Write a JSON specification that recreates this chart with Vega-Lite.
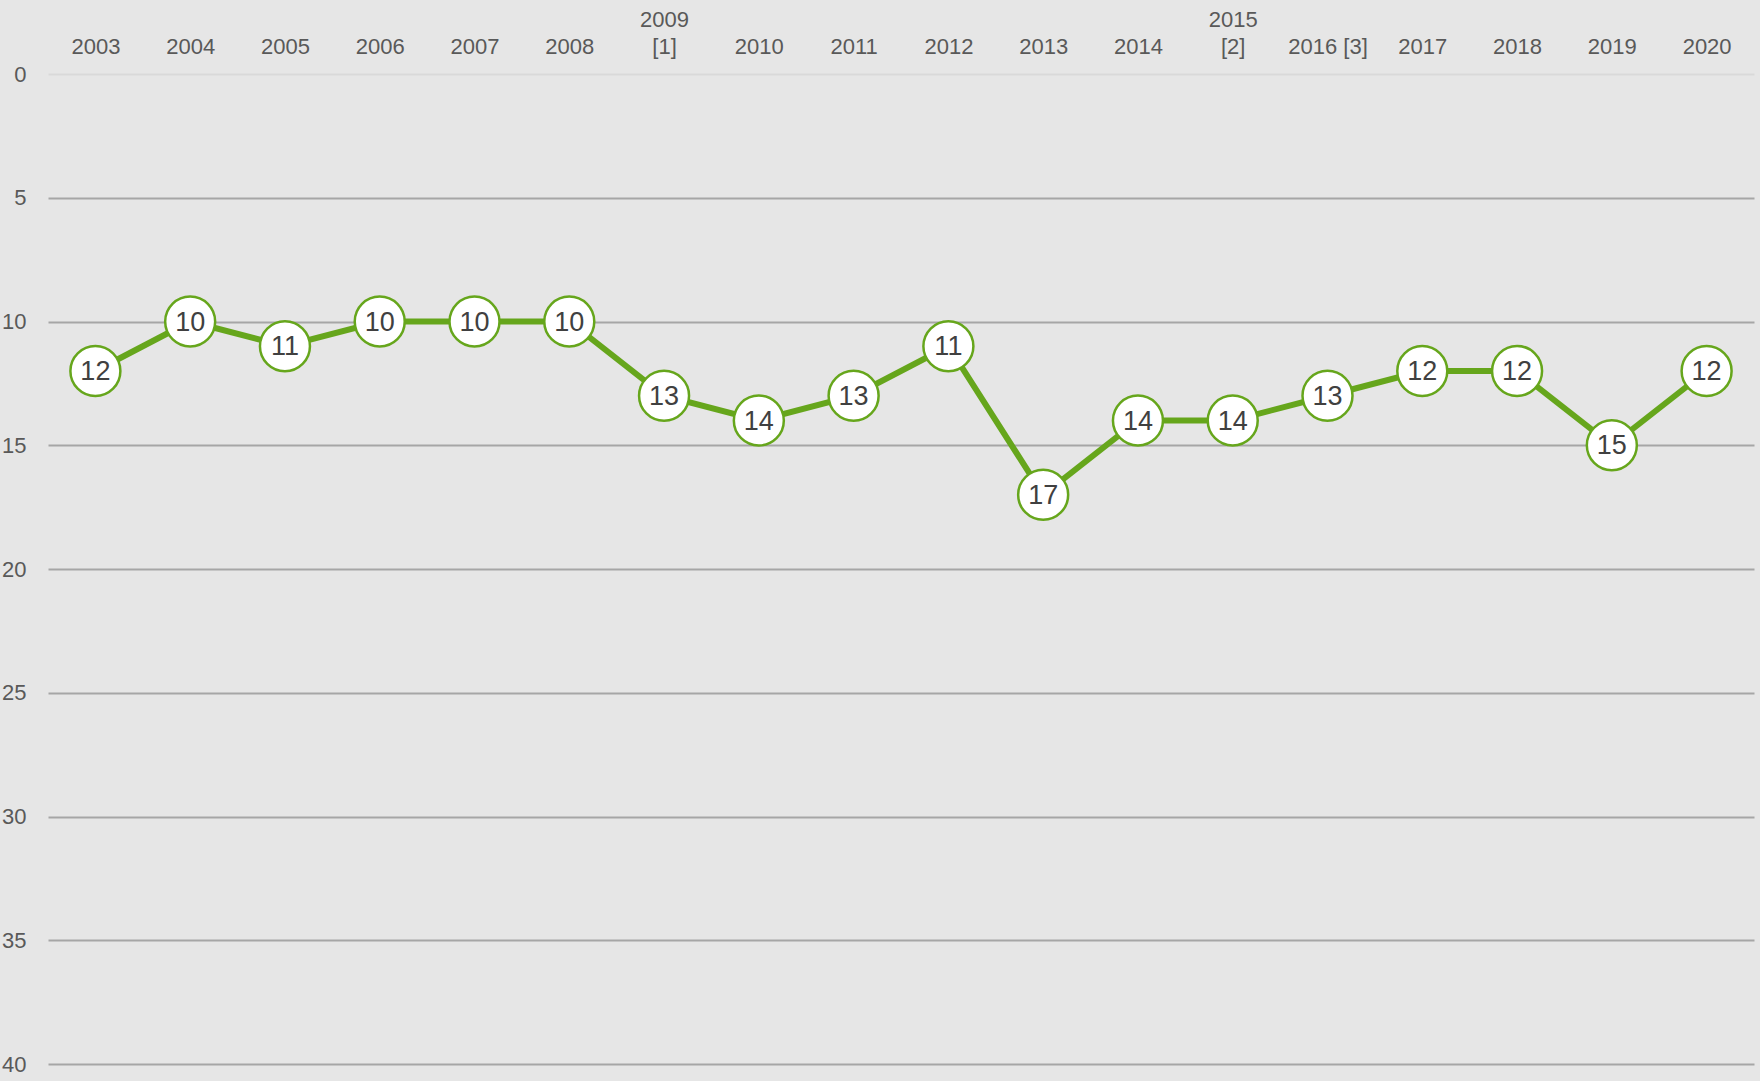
{
  "$schema": "https://vega.github.io/schema/vega-lite/v6.json",
  "width": 1706,
  "height": 990,
  "autosize": {"type": "none"},
  "padding": {"left": 48, "top": 74, "right": 6, "bottom": 17},
  "background": "#e6e6e6",
  "config": {
    "view": {"stroke": null, "fill": "#e6e6e6"},
    "font": "Liberation Sans, Arial, sans-serif"
  },
  "data": {
    "values": [
      {"year": "2003", "value": 12},
      {"year": "2004", "value": 10},
      {"year": "2005", "value": 11},
      {"year": "2006", "value": 10},
      {"year": "2007", "value": 10},
      {"year": "2008", "value": 10},
      {"year": "2009\n[1]", "value": 13},
      {"year": "2010", "value": 14},
      {"year": "2011", "value": 13},
      {"year": "2012", "value": 11},
      {"year": "2013", "value": 17},
      {"year": "2014", "value": 14},
      {"year": "2015\n[2]", "value": 14},
      {"year": "2016 [3]", "value": 13},
      {"year": "2017", "value": 12},
      {"year": "2018", "value": 12},
      {"year": "2019", "value": 15},
      {"year": "2020", "value": 12}
    ]
  },
  "encoding": {
    "x": {
      "field": "year",
      "type": "ordinal",
      "sort": null,
      "scale": {"type": "point", "padding": 0.5},
      "axis": {
        "orient": "top",
        "title": null,
        "labelAngle": 0,
        "labelExpr": "indexof(datum.label, '\\n') >= 0 ? split(datum.label, '\\n') : ['', datum.label]",
        "labelFont": "Liberation Sans, Arial, sans-serif",
        "labelFontSize": 22,
        "labelLineHeight": 27,
        "labelColor": "#595959",
        "labelBaseline": "alphabetic",
        "labelPadding": 48,
        "ticks": false,
        "domain": false,
        "grid": false
      }
    },
    "y": {
      "field": "value",
      "type": "quantitative",
      "scale": {"domain": [0, 40], "reverse": true, "nice": false},
      "axis": {
        "title": null,
        "values": [0, 5, 10, 15, 20, 25, 30, 35, 40],
        "labelFont": "Liberation Sans, Arial, sans-serif",
        "labelFontSize": 22,
        "labelColor": "#595959",
        "labelPadding": 22,
        "ticks": false,
        "domain": false,
        "grid": true,
        "gridWidth": 2,
        "gridColor": {"condition": {"test": "datum.value === 0", "value": "#d9d9d9"}, "value": "#a6a6a6"}
      }
    }
  },
  "layer": [
    {
      "mark": {"type": "line", "color": "#66a61c", "strokeWidth": 6}
    },
    {
      "mark": {"type": "point", "shape": "circle", "filled": true, "fill": "#ffffff", "stroke": "#66a61c", "strokeWidth": 2.5, "size": 2500, "opacity": 1}
    },
    {
      "mark": {"type": "text", "font": "Liberation Sans, Arial, sans-serif", "fontSize": 27, "color": "#404040", "baseline": "middle", "align": "center", "dy": 1},
      "encoding": {"text": {"field": "value", "type": "quantitative"}}
    }
  ]
}
